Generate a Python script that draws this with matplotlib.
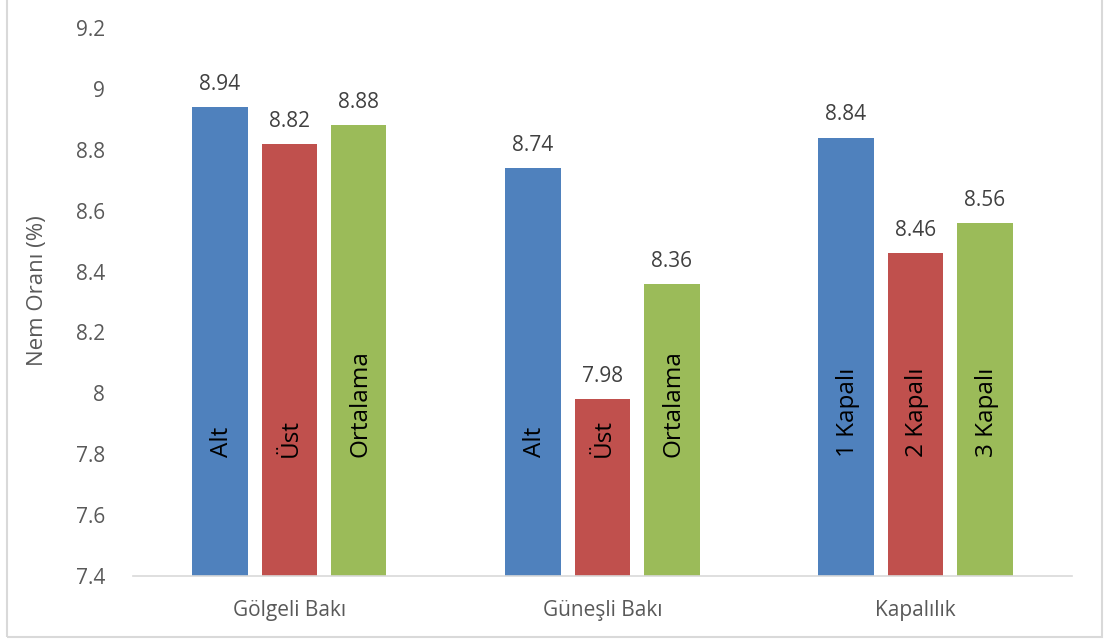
import numpy as np
import matplotlib.pyplot as plt
from matplotlib.patches import Rectangle

plt.rcParams['font.family'] = ['Open Sans', 'DejaVu Sans']

# Veriler
groups = ['Gölgeli Bakı', 'Güneşli Bakı', 'Kapalılık']
blue_vals = [8.94, 8.74, 8.84]
red_vals = [8.82, 7.98, 8.46]
green_vals = [8.88, 8.36, 8.56]
bar_names = [['Alt', 'Üst', 'Ortalama'],
             ['Alt', 'Üst', 'Ortalama'],
             ['1 Kapalı', '2 Kapalı', '3 Kapalı']]
yticks = [7.4, 7.6, 7.8, 8.0, 8.2, 8.4, 8.6, 8.8, 9.0, 9.2]
ytick_labels = ['7.4', '7.6', '7.8', '8', '8.2', '8.4', '8.6', '8.8', '9', '9.2']

colors = ['#4F81BD', '#C0504D', '#9BBB59']
series = [blue_vals, red_vals, green_vals]

fig = plt.figure(figsize=(11.07, 6.44), dpi=100)
ax = fig.add_axes([0.1201, 0.1056, 0.8483, 0.8509])

x = np.arange(len(groups))
width = 0.176
offsets = [-0.222, 0.0, 0.222]

for i, (vals, col, off) in enumerate(zip(series, colors, offsets)):
    ax.bar(x + off, vals, width, color=col, zorder=2)
    for j, v in enumerate(vals):
        ax.text(x[j] + off, v + 0.04, f'{v:g}', ha='center', va='bottom',
                fontsize=15, color='#404040')
        ax.text(x[j] + off + 0.005, 7.79, bar_names[j][i], rotation=90,
                ha='center', va='bottom', fontsize=17.5, color='black')

ax.set_xlim(-0.5, 2.5)
ax.set_ylim(7.4, 9.2)
ax.set_yticks(yticks)
ax.set_yticklabels(ytick_labels)
ax.set_xticks(x)
ax.set_xticklabels(groups)
ax.tick_params(axis='both', length=0, labelsize=15, colors='#595959')
ax.tick_params(axis='y', pad=20)
ax.tick_params(axis='x', pad=17)
ax.set_ylabel('Nem Oranı (%)', fontsize=16, color='#595959')
ax.yaxis.set_label_coords(-0.09, 0.52)

for s in ['top', 'right', 'left']:
    ax.spines[s].set_visible(False)
ax.spines['bottom'].set_color('#D9D9D9')
ax.spines['bottom'].set_linewidth(1.2)

# Dış çerçeve
fig.patches.append(Rectangle((7 / 1107, 7 / 644), 1095 / 1107, 650 / 644,
                             transform=fig.transFigure, fill=False,
                             edgecolor='#D9D9D9', linewidth=1.5))

plt.savefig('out.png', dpi=100)
